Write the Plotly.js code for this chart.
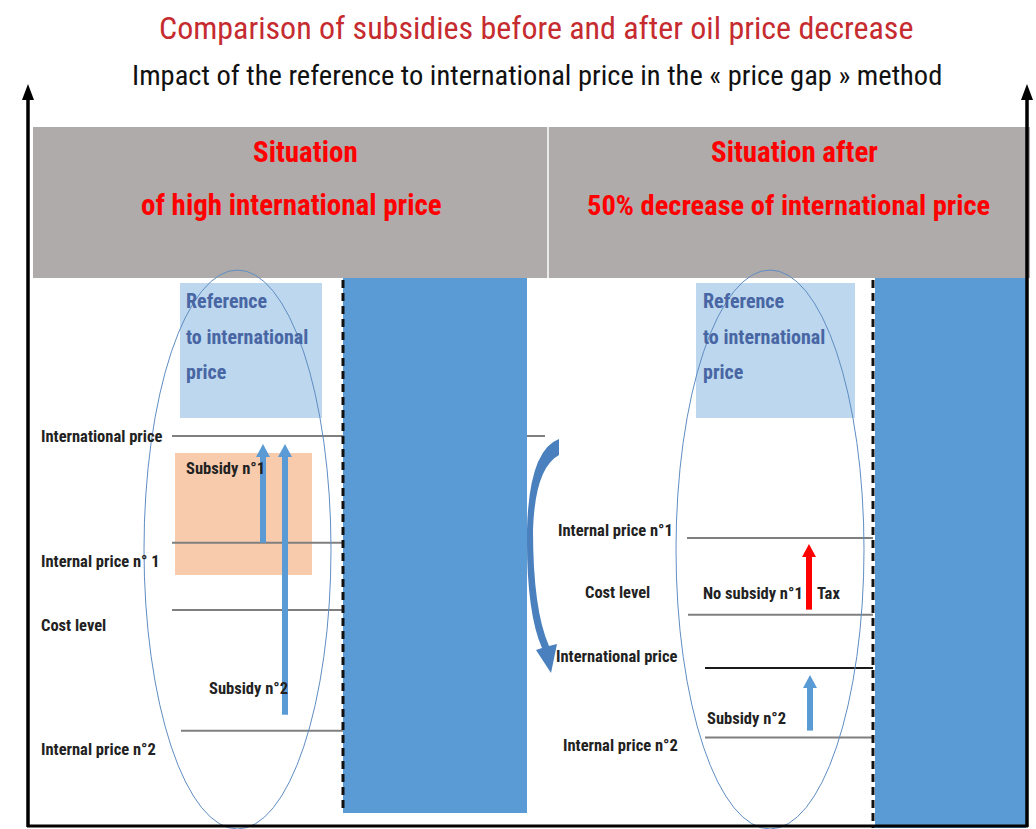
<!DOCTYPE html>
<html><head><meta charset="utf-8">
<script src="https://cdn.plot.ly/plotly-3.0.1.min.js"></script>
<style>html,body{margin:0;padding:0;background:#fff}#chart{width:1036px;height:829px}</style>
</head><body><div id="chart"></div>
<script>
// ---------- DATA ----------
const mainTitle = "Comparison of subsidies before and after oil price decrease";
const subTitle = "Impact of the reference to international price in the « price gap » method";
const panelTitleLines1 = ["Situation", "of high international price"];
const panelTitleLines2 = ["Situation after", "50% decrease of international price"];
const boxLines = ["Reference", "to international", "price"];
// price levels (arbitrary units, international price falls by 50 %)
const labelsBefore = ["International price", "Internal price n° 1", "Cost level", "Internal price n°2"];
const labelsAfter  = ["International price", "Internal price n°1", "Cost level", "Internal price n°2"];
const pricesBefore = [100, 77, 62.5, 36.5];
const pricesAfter  = [50, 78, 61.5, 35];
const arrowNamesBefore = ["Subsidy n°1", "Subsidy n°2"];
const arrowNamesAfter  = ["No subsidy n°1", "Tax", "Subsidy n°2"];

// ---------- SCALE ----------
const W = 1036, H = 829;
const PXU = 4.64, ZERO = 900;             // pixels per price unit, pixel row of price 0
const yRange = [(ZERO - H) / PXU, ZERO / PXU];
const u = px => px / PXU;                  // pixel offset -> price units
const py = p => 1 - p / H;                 // pixel row -> paper
const P = (x, y) => `${x},${py(y)}`;

const FONT = "Liberation Sans Narrow, Arial Narrow, Roboto Condensed, Roboto, sans-serif";
const BLUE = "#5b9bd5", LBLUE = "#bdd7ee", ORANGE = "#f8cbad", GRAY = "#afabab";
const LINEGRAY = "#7f7f7f", TXT = "#222222";

// ---------- TRACES ----------
const traces = [];
function level(x0, x1, p, color, w) {
  traces.push({x: [x0, x1], y: [p, p], mode: "lines", line: {color: color, width: w || 2}, hoverinfo: "skip"});
}
const startBefore = [172, 172, 172, 181];
pricesBefore.forEach((p, i) => level(startBefore[i], 343, p, LINEGRAY));
level(527, 545, pricesBefore[0], LINEGRAY);
const startAfter = [705, 687, 688, 705];
pricesAfter.forEach((p, i) => level(startAfter[i], 873, p, i === 0 ? "#1a1a1a" : LINEGRAY));

function arrow(x, yBottom, yTip, color, half) {
  const head = u(13);
  traces.push({x: [x, x], y: [yBottom, yTip - head + u(1)], mode: "lines",
    line: {color: color, width: 6}, hoverinfo: "skip"});
  traces.push({x: [x - half, x + half, x, x - half], y: [yTip - head, yTip - head, yTip, yTip - head],
    mode: "lines", fill: "toself", fillcolor: color, line: {color: color, width: 0}, hoverinfo: "skip"});
}
arrow(263, pricesBefore[1], pricesBefore[0] - u(8), BLUE, 7);
arrow(285, pricesBefore[3] + u(16), pricesBefore[0] - u(8), BLUE, 7);
arrow(809, pricesAfter[2] + u(5), pricesAfter[1] - u(6), "#ff0000", 7);
arrow(810, pricesAfter[3] + u(7), pricesAfter[0] - u(7), BLUE, 7);

// ---------- SHAPES ----------
const rectPx = (x0, y0, x1, y1, fill, layer) => ({type: "rect", xref: "x", yref: "paper",
  x0: x0, x1: x1, y0: py(y1), y1: py(y0), fillcolor: fill, line: {width: 0}, layer: layer || "below"});
const linePx = (x0, y0, x1, y1, color, w, dash, layer) => ({type: "line", xref: "x", yref: "paper",
  x0: x0, x1: x1, y0: py(y0), y1: py(y1), line: {color: color, width: w, dash: dash || "solid"}, layer: layer || "above"});
const shapes = [
  rectPx(33, 127, 1030, 278, GRAY),
  linePx(548, 127, 548, 278, "#ffffff", 1.5, "solid", "below"),
  rectPx(180, 283, 322, 418, LBLUE),
  rectPx(696, 283, 855, 418, LBLUE),
  rectPx(175, 453, 312, 575, ORANGE),
  rectPx(343, 278, 527, 813, BLUE),
  rectPx(875, 278, 1026, 828, BLUE),
  linePx(343, 280, 343, 813, "#111", 3, "8px,5px"),
  linePx(873, 280, 873, 828, "#111", 3, "8px,5px"),
  {type: "circle", xref: "x", yref: "paper", x0: 144, x1: 331, y0: py(829), y1: py(270),
   line: {color: "#5f8dc2", width: 1}, layer: "above"},
  {type: "circle", xref: "x", yref: "paper", x0: 676, x1: 864, y0: py(829), y1: py(270),
   line: {color: "#5f8dc2", width: 1}, layer: "above"},
  // axes
  linePx(28, 827, 28, 98, "#000", 3.5),
  linePx(1027, 827, 1027, 98, "#000", 3.5),
  linePx(27, 826, 1028, 826, "#000", 3),
  {type: "path", xref: "x", yref: "paper", path: `M ${P(22,100)} L ${P(28,84)} L ${P(34,100)} Z`,
   fillcolor: "#000", line: {width: 0}},
  {type: "path", xref: "x", yref: "paper", path: `M ${P(1021,100)} L ${P(1027,84)} L ${P(1033,100)} Z`,
   fillcolor: "#000", line: {width: 0}},
  // curved transition arrow
  {type: "path", xref: "x", yref: "paper",
   path: `M ${P(559,439)} Q ${P(529,450)} ${P(527,530)} Q ${P(526,612)} ${P(542,648)} L ${P(536,650)} L ${P(551,673)} L ${P(557,644)} L ${P(549,646)} Q ${P(533,610)} ${P(533,530)} Q ${P(535,468)} ${P(559,455)} Z`,
   fillcolor: "#4a80bd", line: {width: 0}}
];

// ---------- ANNOTATIONS ----------
const ann = [];
function txt(text, x, y, size, color, align, bold, yref, yshift) {
  ann.push({text: text, x: x, y: yref === "y" ? y : py(y), xref: "x", yref: yref || "paper",
    xanchor: align || "center", yanchor: "middle", showarrow: false, yshift: yshift || 0,
    font: {family: FONT, size: size, color: color, weight: bold ? "bold" : "normal"}});
}
txt(mainTitle, 536, 28, 32, "#c62b2f", "center", false);
txt(subTitle, 537, 75, 28.5, "#111", "center", false);
txt(panelTitleLines1[0], 305, 152, 29, "#ff0000", "center", true);
txt(panelTitleLines1[1], 291, 205, 29, "#ff0000", "center", true);
txt(panelTitleLines2[0], 794, 152, 29, "#ff0000", "center", true);
txt(panelTitleLines2[1], 788, 205, 28.5, "#ff0000", "center", true);
boxLines.forEach((t, i) => { txt(t, 184, 301 + 35.5 * i, 20, "#4866a3", "left", true);
                             txt(t, 701, 301 + 35.5 * i, 20, "#4866a3", "left", true); });
// level labels (left panel)
const shiftBefore = [0, -19, -15, -19];
labelsBefore.forEach((t, i) => txt(t, 39, pricesBefore[i], 16.5, TXT, "left", true, "y", shiftBefore[i]));
// level labels (right panel)
const xAfter = [680, 675, 652, 680];
const shiftAfter = [12, 8, 22, -8];
labelsAfter.forEach((t, i) => txt(t, xAfter[i], pricesAfter[i], 16.5, TXT, "right", true, "y", shiftAfter[i]));
// arrow labels
txt(arrowNamesBefore[0], 184, 468, 16.5, TXT, "left", true);
txt(arrowNamesBefore[1], 207, 688, 16.5, TXT, "left", true);
txt(arrowNamesAfter[0], 701, 593, 16.5, TXT, "left", true);
txt(arrowNamesAfter[1], 815, 593, 16.5, TXT, "left", true);
txt(arrowNamesAfter[2], 705, 718, 16.5, TXT, "left", true);

const layout = {
  width: W, height: H, margin: {l: 0, r: 0, t: 0, b: 0},
  paper_bgcolor: "#ffffff", plot_bgcolor: "#ffffff", showlegend: false,
  xaxis: {range: [0, W], visible: false, fixedrange: true},
  yaxis: {range: yRange, visible: false, fixedrange: true},
  shapes: shapes, annotations: ann
};
Plotly.newPlot("chart", traces, layout, {displayModeBar: false, staticPlot: true});
</script></body></html>
